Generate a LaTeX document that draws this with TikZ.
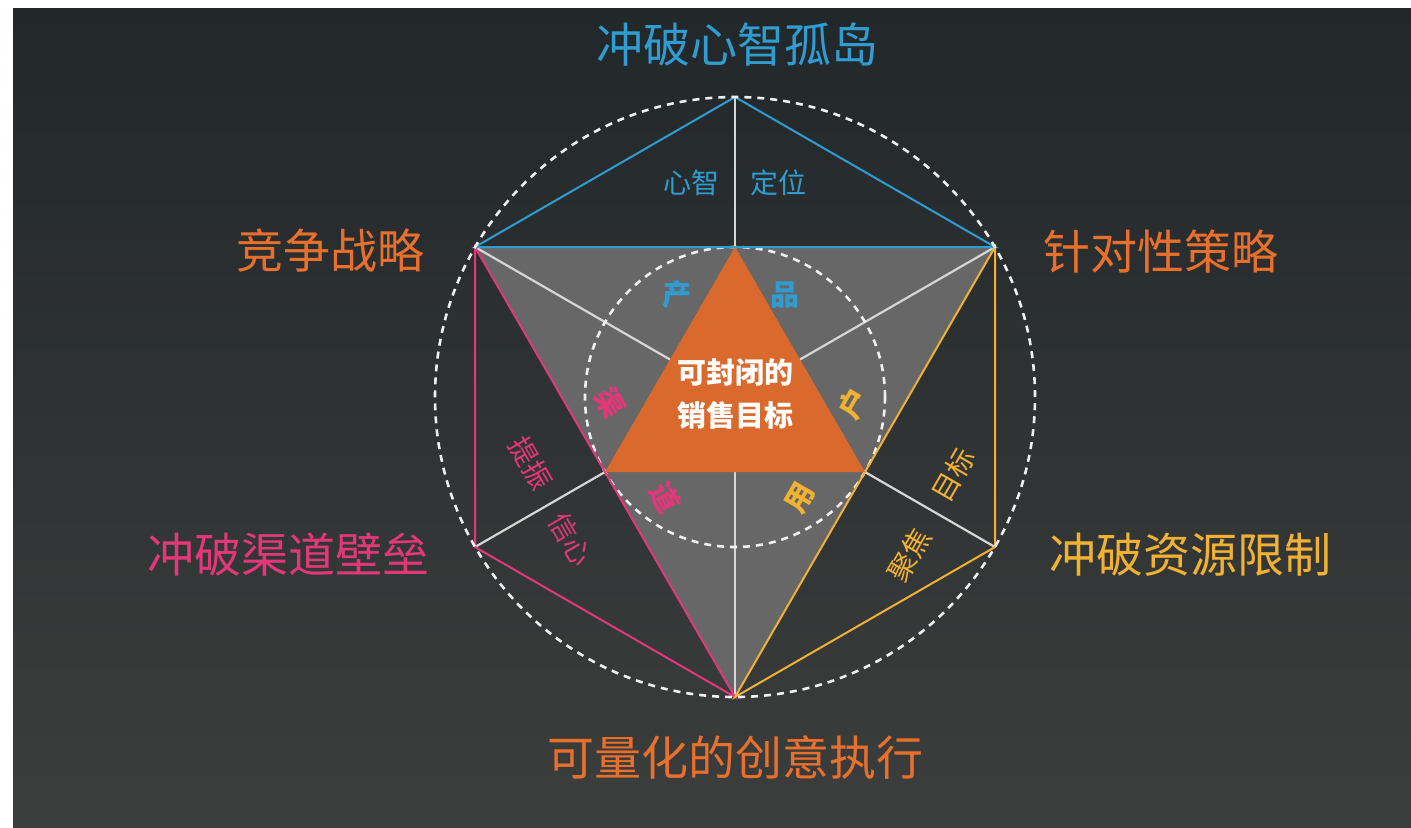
\documentclass[tikz,border=0pt]{standalone}
\usepackage{fontspec}
\newfontfamily\cjk{Noto Sans CJK SC}
\usetikzlibrary{calc}
\definecolor{cblue}{HTML}{2F9DD2}
\definecolor{corange}{HTML}{E8702C}
\definecolor{cpink}{HTML}{E2387A}
\definecolor{cyellow}{HTML}{F1B132}
\definecolor{cgray}{HTML}{676767}
\definecolor{ctri}{HTML}{D9692C}
\definecolor{cline}{HTML}{D6D6D6}
\definecolor{bgtop}{HTML}{22272A}
\definecolor{bgbot}{HTML}{3B3E3C}
\tikzset{
  big/.style={font=\cjk\fontsize{23.5pt}{26pt}\selectfont, inner sep=0pt},
  small/.style={font=\cjk\fontsize{14pt}{16pt}\selectfont, inner sep=0pt},
  ring/.style={font=\cjk\bfseries\fontsize{14.5pt}{16pt}\selectfont, inner sep=0pt},
  center/.style={font=\cjk\bfseries\fontsize{14.5pt}{21.5pt}\selectfont, text=white, align=center, inner sep=0pt},
  radius line/.style={draw=cline, line width=1.1pt},
  edge/.style={line width=1pt},
  dashcircle/.style={draw=white!88!gray, line width=1.3pt, dash pattern=on 3.5pt off 3pt},
}
\begin{document}
\begin{tikzpicture}[x=0.5pt, y=-0.5pt]
\useasboundingbox (0,0) rectangle (1411,827);
\fill[white] (0,0) rectangle (1411,827);
\shade[top color=bgtop, bottom color=bgbot] (13,8) rectangle (1411,827);
% geometry
\coordinate (C) at (735,397);
\coordinate (T) at (735,97);
\coordinate (UL) at (475,247);
\coordinate (UR) at (995,247);
\coordinate (LL) at (475,547);
\coordinate (LR) at (995,547);
\coordinate (B) at (735,697);
\coordinate (oT) at (735,247);
\coordinate (oL) at (605,472);
\coordinate (oR) at (865,472);
% gray triangle
\fill[cgray] (UL) -- (UR) -- (B) -- cycle;
% radii
\foreach \p in {T,UL,UR,LL,LR,B} \draw[radius line] (\p) -- (C);
% inner dashed circle
\draw[dashcircle] (C) circle[radius=75pt];
% colored triangles
\draw[edge, cblue] (T) -- (UL) -- (UR) -- cycle;
\draw[edge, cpink] (UL) -- (LL) -- (B) -- cycle;
\draw[edge, cyellow] (UR) -- (LR) -- (B) -- cycle;
% orange triangle
\fill[ctri] (oT) -- (oL) -- (oR) -- cycle;
% outer dashed circle
\draw[dashcircle] (C) circle[radius=150pt];
% labels
\node[big, text=cblue] (t1) at (737,45) {冲破心智孤岛};
\node[big, text=corange] (t2) at (330,251) {竞争战略};
\node[big, text=corange] (t3) at (1161,252) {针对性策略};
\node[big, text=cpink] (t4) at (288,555) {冲破渠道壁垒};
\node[big, text=cyellow] (t5) at (1190,555) {冲破资源限制};
\node[big, text=corange] (t6) at (735,757) {可量化的创意执行};
\node[small, text=cblue] (s1) at (691,183) {心智};
\node[small, text=cblue] (s2) at (778,183) {定位};
\node[small, text=cpink, rotate=-60] (s3) at (531,463) {提振};
\node[small, text=cpink, rotate=-60] (s4) at (571,539) {信心};
\node[small, text=cyellow, rotate=60] (s5) at (909,555) {聚焦};
\node[small, text=cyellow, rotate=60] (s6) at (953,475) {目标};
\node[ring, text=cblue] (r1) at (677,295) {产};
\node[ring, text=cblue] (r2) at (785,295) {品};
\node[ring, text=cpink, rotate=-60] (r3) at (610,403) {渠};
\node[ring, text=cpink, rotate=-60] (r4) at (665,498) {道};
\node[ring, text=cyellow, rotate=60] (r5) at (800,498) {用};
\node[ring, text=cyellow, rotate=60] (r6) at (853,403) {户};
\node[center] (ctr) at (735,394) {可封闭的\\销售目标};
\end{tikzpicture}
\end{document}
